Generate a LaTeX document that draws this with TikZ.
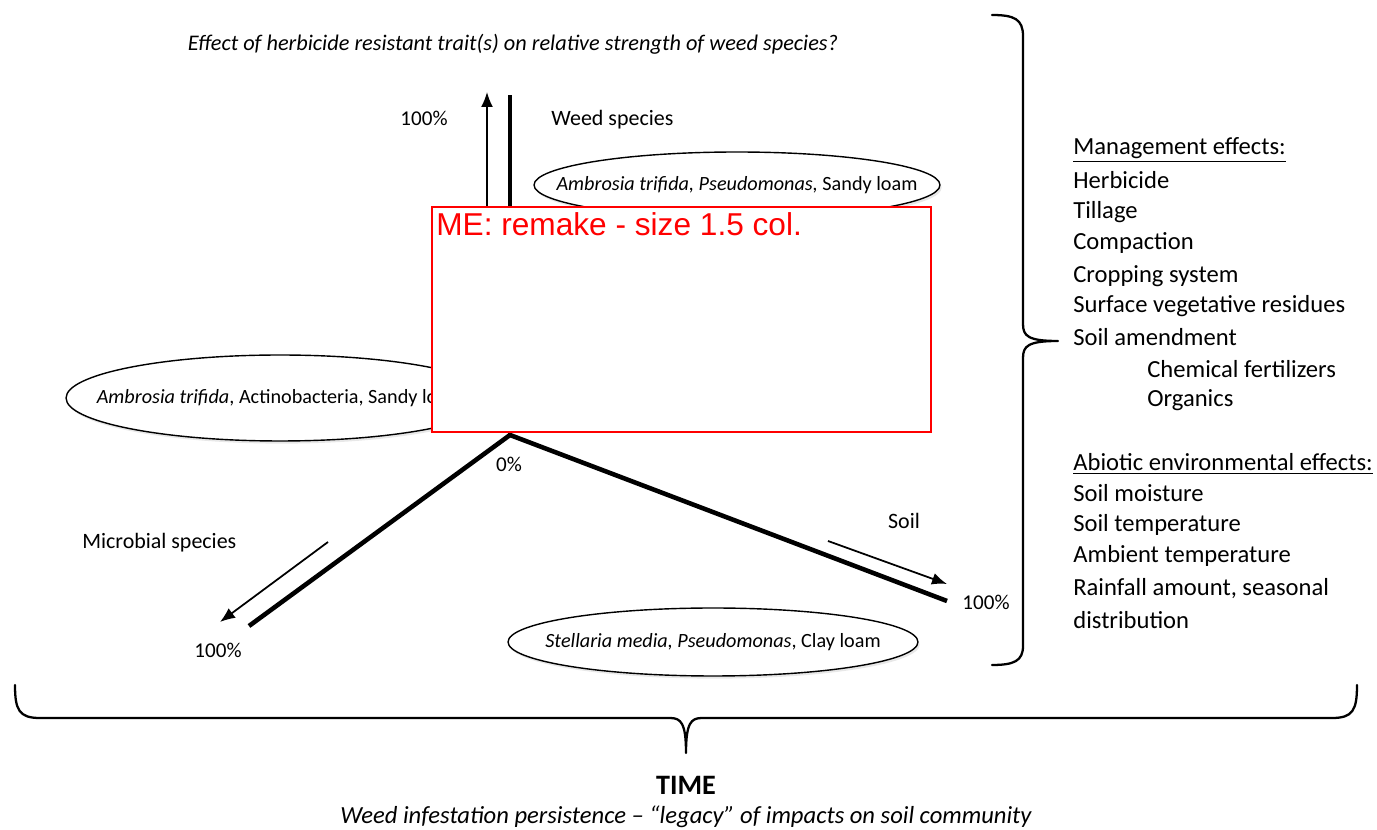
\documentclass[tikz,border=0pt]{standalone}
\usepackage{fontspec}
\setmainfont{Carlito}
\newfontfamily\notefont{Liberation Sans}
\usetikzlibrary{arrows.meta}
\usetikzlibrary{shapes.geometric}
\usetikzlibrary{shadows}

\tikzset{
  axisline/.style={line width=2.6pt},
  dirarrow/.style={line width=1pt,-{Latex[length=3mm,width=2.4mm]}},
  combo/.style={ellipse,draw,line width=0.8pt,fill=white,inner sep=0pt,
    drop shadow={opacity=0.18,shadow xshift=1pt,shadow yshift=-1.5pt}},
  combotext/.style={inner sep=0pt,font=\fontsize{11.5}{13}\selectfont},
  axislabel/.style={inner sep=0pt,font=\fontsize{12.5}{14}\selectfont},
  pct/.style={inner sep=0pt,font=\fontsize{12}{14}\selectfont},
  effect/.style={inner sep=0pt,anchor=west,font=\fontsize{14}{16}\selectfont},
  bigbrace/.style={line width=1.3pt,line cap=round,line join=round}
}

\begin{document}
\begin{tikzpicture}[x=0.02cm,y=-0.02cm]
\useasboundingbox (0,0) rectangle (1377,830);

\node[inner sep=0pt,font=\fontsize{12.7}{14}\selectfont\itshape] (question) at (513,44)
  {Effect of herbicide resistant trait(s) on relative strength of weed species?};

% axes
\coordinate (O) at (510,435);
\coordinate (weedend) at (510,95);
\coordinate (microend) at (249,626);
\coordinate (soilend) at (947,601);
\draw[axisline] (O) -- (weedend);
\draw[axisline] (O) -- (microend);
\draw[axisline] (O) -- (soilend);

\coordinate (wa1) at (487,300); \coordinate (wa2) at (487,92);
\coordinate (ma1) at (328,542); \coordinate (ma2) at (220,622);
\coordinate (sa1) at (828,541); \coordinate (sa2) at (947,584);
\draw[dirarrow] (wa1) -- (wa2);
\draw[dirarrow] (ma1) -- (ma2);
\draw[dirarrow] (sa1) -- (sa2);

\node[pct] (p0) at (509,464) {0\%};
\node[pct] (pweed) at (424,118) {100\%};
\node[pct] (pmicro) at (218,650) {100\%};
\node[pct] (psoil) at (986,602) {100\%};
\node[axislabel,anchor=west] (weed) at (551,120) {Weed species};
\node[axislabel,anchor=west] (micro) at (82,543) {Microbial species};
\node[axislabel] (soil) at (904,521) {Soil};

% combinations
\node[combo,minimum width=8.12cm,minimum height=1.32cm] (c1) at (737,185) {};
\node[combotext] at (c1) {\textit{Ambrosia trifida, Pseudomonas,} Sandy loam};
\node[combo,minimum width=8.56cm,minimum height=1.72cm] (c2) at (280,398) {};
\node[combotext] at (c2) {\textit{Ambrosia trifida}, Actinobacteria, Sandy loam};
\node[combo,minimum width=8.2cm,minimum height=1.36cm] (c3) at (713,642) {};
\node[combotext] at (c3) {\textit{Stellaria media, Pseudomonas}, Clay loam};

% effects list
\node[effect] (mgmt) at (1073,150) {\underline{Management effects:}};
\foreach \y/\t [count=\i] in {180/Herbicide,212/Tillage,243/Compaction,
  276/Cropping system,306/Surface vegetative residues,337/Soil amendment}
  \node[effect] (mg\i) at (1073,\y) {\t};
\node[effect] (mg7) at (1147,369) {Chemical fertilizers};
\node[effect] (mg8) at (1147,400) {Organics};
\node[effect] (abio) at (1073,464) {\underline{Abiotic environmental effects:}};
\foreach \y/\t [count=\i] in {493/Soil moisture,525/Soil temperature,
  556/Ambient temperature,589/{Rainfall amount, seasonal},620/distribution}
  \node[effect] (ab\i) at (1073,\y) {\t};

% braces
\draw[bigbrace] (992,15) .. controls (1014,15) and (1023,19) .. (1023,36)
  -- (1023,324) .. controls (1023,336) and (1028,341) .. (1058,341)
  .. controls (1028,341) and (1023,346) .. (1023,358)
  -- (1023,646) .. controls (1023,661) and (1014,665) .. (992,665);
\draw[bigbrace] (15,685) .. controls (15,710) and (19,718) .. (40,718)
  -- (670,718) .. controls (681,718) and (686,723) .. (686,753)
  .. controls (686,723) and (691,718) .. (702,718)
  -- (1332,718) .. controls (1353,718) and (1357,710) .. (1357,685);

\node[inner sep=0pt,font=\fontsize{16}{18}\selectfont\bfseries] (time) at (686,785) {TIME};
\node[inner sep=0pt,font=\fontsize{14}{16}\selectfont\itshape] (legacy) at (686,817)
  {Weed infestation persistence – “legacy” of impacts on soil community};

% editor note
\node[draw=red,line width=1.1pt,fill=white,anchor=north west,
  minimum width=9.98cm,minimum height=4.5cm] (note) at (431,206) {};
\node[anchor=north west,inner sep=0pt,text=red,font=\notefont\fontsize{18}{20}\selectfont]
  (notetext) at (436,212) {ME: remake - size 1.5 col.};
\end{tikzpicture}
\end{document}
